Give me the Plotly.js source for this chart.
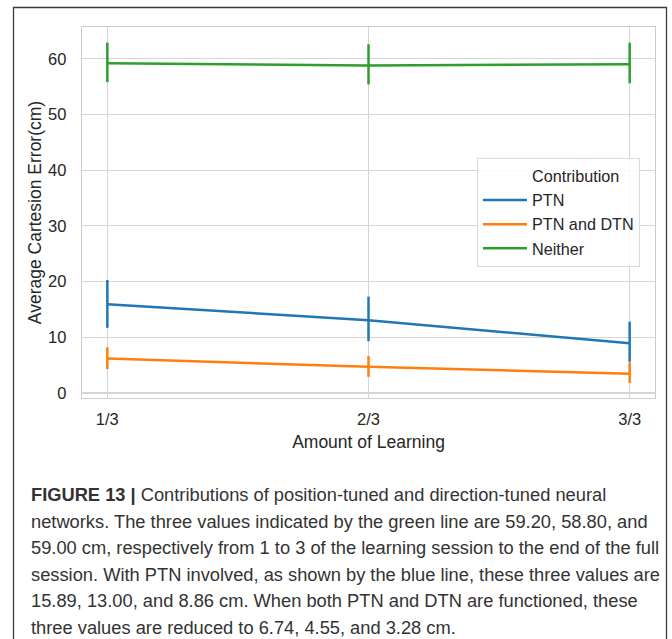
<!DOCTYPE html>
<html>
<head>
<meta charset="utf-8">
<script src="https://cdn.plot.ly/plotly-3.0.1.min.js"></script>
<style>
  html, body { margin: 0; padding: 0; background: #ffffff; }
  #chart { width: 672px; height: 639px; }
</style>
</head>
<body>
<div id="chart"></div>
<script>
// ---- data ----
const categories = ['1/3', '2/3', '3/3'];
const seriesNames = ['PTN', 'PTN and DTN', 'Neither'];
const legendTitle = 'Contribution';

const ptnMean = [15.95, 13.05, 8.95];
const ptnLow  = [11.7, 9.3, 5.6];
const ptnHigh = [20.3, 17.3, 12.8];

const bothMean = [6.2, 4.7, 3.45];
const bothLow  = [4.3, 2.9, 1.8];
const bothHigh = [8.2, 6.6, 5.5];

const neitherMean = [59.2, 58.8, 59.0];
const neitherLow  = [55.8, 55.4, 55.6];
const neitherHigh = [62.9, 62.6, 62.9];

const yTicks = [0, 10, 20, 30, 40, 50, 60];

const xTitle = 'Amount of Learning';
const yTitle = 'Average Cartesion Error(cm)';

const captionBold = 'FIGURE 13 |';
const captionLines = [
  ' Contributions of position-tuned and direction-tuned neural',
  'networks. The three values indicated by the green line are 59.20, 58.80, and',
  '59.00 cm, respectively from 1 to 3 of the learning session to the end of the full',
  'session. With PTN involved, as shown by the blue line, these three values are',
  '15.89, 13.00, and 8.86 cm. When both PTN and DTN are functioned, these',
  'three values are reduced to 6.74, 4.55, and 3.28 cm.'
];

// ---- styling / layout ----
const colors = ['#1f77b4', '#ff7f0e', '#2ca02c'];
const FONT = 'Liberation Sans, Arial, Helvetica, sans-serif';
const W = 672, H = 639;
const M = {l: 82, r: 17, t: 27, b: 241};
const PW = W - M.l - M.r, PH = H - M.t - M.b;
const px2x = px => (px - M.l) / PW;
const py2y = py => (H - M.b - py) / PH;

function series(name, mean, lo, hi, color) {
  return {
    type: 'scatter', mode: 'lines', name: name,
    x: categories, y: mean,
    line: {color: color, width: 2.5},
    error_y: {
      type: 'data', symmetric: false,
      array: hi.map((h, i) => h - mean[i]),
      arrayminus: mean.map((m, i) => m - lo[i]),
      width: 0, thickness: 2.5, color: color
    },
    hoverinfo: 'skip'
  };
}

const traces = [
  {type: 'scatter', mode: 'lines', name: legendTitle, x: [categories[0]], y: [null],
   line: {color: 'rgba(0,0,0,0)', width: 2.5}, showlegend: true, hoverinfo: 'skip'},
  series(seriesNames[0], ptnMean, ptnLow, ptnHigh, colors[0]),
  series(seriesNames[1], bothMean, bothLow, bothHigh, colors[1]),
  series(seriesNames[2], neitherMean, neitherLow, neitherHigh, colors[2])
];

const annotations = [];
const lineY = [494, 521, 547.5, 574, 600.5, 627];
captionLines.forEach((t, i) => {
  annotations.push({
    xref: 'paper', yref: 'paper', x: px2x(29), y: py2y(lineY[i]),
    xanchor: 'left', yanchor: 'middle', showarrow: false, align: 'left',
    text: (i === 0 ? '<b>' + captionBold + '</b>' : '') + t,
    font: {family: FONT, size: 18.3, color: '#333333'}
  });
});

const layout = {
  width: W, height: H,
  margin: M,
  paper_bgcolor: '#ffffff', plot_bgcolor: '#ffffff',
  font: {family: FONT, color: '#262626'},
  showlegend: true,
  legend: {
    x: px2x(477), y: py2y(158), xanchor: 'left', yanchor: 'top',
    bgcolor: 'rgba(255,255,255,0.85)', bordercolor: '#d9d9d9', borderwidth: 1,
    font: {family: FONT, size: 16.2, color: '#262626'},
    itemwidth: 44,
    tracegroupgap: 0, itemclick: false, itemdoubleclick: false
  },
  xaxis: {
    type: 'category', categoryorder: 'array', categoryarray: categories,
    range: [-0.097, 2.097],
    showgrid: true, gridcolor: '#d6d6d6', gridwidth: 1.2,
    showline: true, mirror: true, linecolor: '#cccccc', linewidth: 1.3,
    zeroline: false, ticks: '', ticklabelstandoff: 6,
    tickfont: {family: FONT, size: 16.5, color: '#262626'},
    title: {text: xTitle, font: {family: FONT, size: 17.5, color: '#262626'}, standoff: 8},
    automargin: false
  },
  yaxis: {
    range: [-0.9, 65.7],
    tickmode: 'array', tickvals: yTicks, ticktext: yTicks.map(String),
    showgrid: true, gridcolor: '#d6d6d6', gridwidth: 1.2,
    showline: true, mirror: true, linecolor: '#cccccc', linewidth: 1.3,
    zeroline: false, ticks: '', ticklabelstandoff: 11,
    tickfont: {family: FONT, size: 16.5, color: '#262626'},
    title: {text: yTitle, font: {family: FONT, size: 17.5, color: '#262626'}, standoff: 2},
    automargin: false
  },
  shapes: [{
    type: 'rect', xref: 'paper', yref: 'paper',
    x0: px2x(13.5), x1: px2x(666.5), y0: py2y(660), y1: py2y(7.5),
    line: {color: '#3a3a3a', width: 1.3}, fillcolor: 'rgba(0,0,0,0)', layer: 'below'
  }],
  annotations: annotations
};

Plotly.newPlot('chart', traces, layout, {staticPlot: true, displayModeBar: false});
</script>
</body>
</html>
